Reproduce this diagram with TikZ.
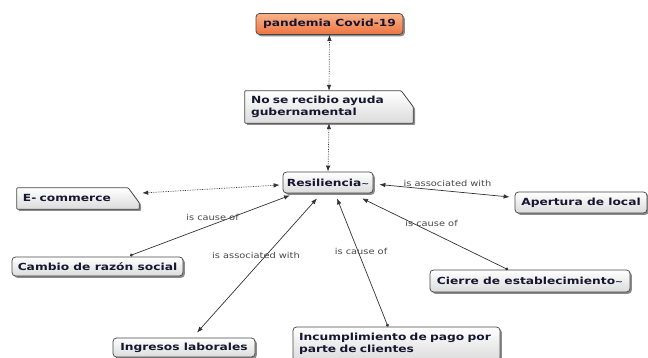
\documentclass[tikz,border=0pt]{standalone}
\usepackage{fontspec}
\newfontfamily\nodefont{DejaVu Sans}[FakeStretch=1.25]
\newfontfamily\labfont{DejaVu Sans}[FakeStretch=1.2]
\usetikzlibrary{arrows.meta,shadows,calc,backgrounds}
\definecolor{txt}{HTML}{161630}
\definecolor{orgtop}{HTML}{F9B28A}
\definecolor{orgbot}{HTML}{EE7440}
\newcommand{\smtilde}{{\fontsize{7.5}{7.5}\selectfont\textasciitilde}}
\begin{document}
\begin{tikzpicture}[x=1pt,y=1pt,
  nodetext/.style={font=\nodefont\bfseries\fontsize{9.8}{12}\selectfont, text=txt,
    inner xsep=5pt, inner ysep=0pt, minimum height=21pt, anchor=center},
  shade/.style={draw=black!72, line width=0.75pt, top color=white, bottom color=black!14,
    drop shadow={shadow xshift=1.8pt, shadow yshift=-1.8pt, fill=black!60, opacity=0.75}},
  box/.style={nodetext, shade, rounded corners=3.5pt},
  plainbox/.style={nodetext},
  cutshape/.style={shade, rounded corners=0.8pt},
  lab/.style={font=\labfont\fontsize{8.2}{9}\selectfont, text=black!72, inner sep=0pt},
  edge/.style={draw=black!80, line width=0.7pt},
  dotline/.style={edge, densely dotted},
  >={Latex[length=6pt,width=4.5pt]}
]
\useasboundingbox (0,0) rectangle (648,358);
\begin{scope}[on background layer]
  \fill[white] (0,0) rectangle (648,358);
\end{scope}

% nodes
\node[box, minimum width=147pt, top color=orgtop, bottom color=orgbot] (pan) at (329.5,334) {pandemia Covid-19};
\node[plainbox, text width=156pt, align=left, inner xsep=6pt, minimum height=32pt] (nose) at (329,251) {No se recibio ayuda\\gubernamental};
\node[box, minimum width=90pt, inner xsep=3pt] (res) at (328,175.5) {Resiliencia\smtilde};
\node[plainbox, text width=110pt, align=left, inner xsep=6pt] (ecom) at (78,159.5) {E- commerce};
\node[box, minimum width=171pt, minimum height=19pt] (cambio) at (97.5,91.5) {Cambio de razón social};
\node[box, minimum width=132pt] (apert) at (581,155.5) {Apertura de local};
\node[box, minimum width=200pt, minimum height=22pt] (cierre) at (530,77) {Cierre de establecimiento\smtilde};
\node[box, minimum width=142pt, minimum height=19pt] (ingr) at (184,10.5) {Ingresos laborales};
\node[box, text width=195pt, align=left, inner xsep=6pt, minimum height=34pt] (incump) at (396.5,14) {Incumplimiento de pago por\\parte de clientes};

\begin{scope}[on background layer]
  \path[cutshape] (nose.south west) -- (nose.north west) -- ([xshift=-12pt]nose.north east)
    -- ([yshift=-16pt]nose.north east) -- (nose.south east) -- cycle;
  \path[cutshape] (ecom.south west) -- (ecom.north west) -- ([xshift=-11pt]ecom.north east)
    -- ([yshift=-15pt]ecom.north east) -- (ecom.south east) -- cycle;
\end{scope}

% connectors
\draw[dotline,<->] (pan.south) -- (nose.north);
\draw[dotline,<->] (nose.south) -- (res.north);
\draw[dotline,<->] ($(ecom.east)+(3,5.5)$) -- ($(res.west)+(-3,-2.5)$);
\draw[edge,<->] ($(res.east)+(6,-2)$) -- ($(apert.west)+(-5,5.5)$);
\draw[edge,{Circle[length=3pt]}->] ($(cambio.north)+(32.5,1)$) -- ($(res.south)+(-38,-2)$);
\draw[edge,<->] ($(res.south)+(-11,-5)$) -- ($(ingr.north)+(13,5)$);
\draw[edge,{Circle[length=3pt]}->] ($(incump.north)+(-8.5,0)$) -- ($(res.south)+(9,-5)$);
\draw[edge,{Circle[length=3pt]}->] ($(cierre.north)+(-22,0)$) -- ($(res.south)+(34,-5)$);

% labels
\node[lab] (l1) at (447.5,175) {is associated with};
\node[lab] (l2) at (212.5,141) {is cause of};
\node[lab] (l3) at (256,103) {is associated with};
\node[lab] (l4) at (361,107) {is cause of};
\node[lab] (l5) at (431.5,135) {is cause of};
\end{tikzpicture}
\end{document}
